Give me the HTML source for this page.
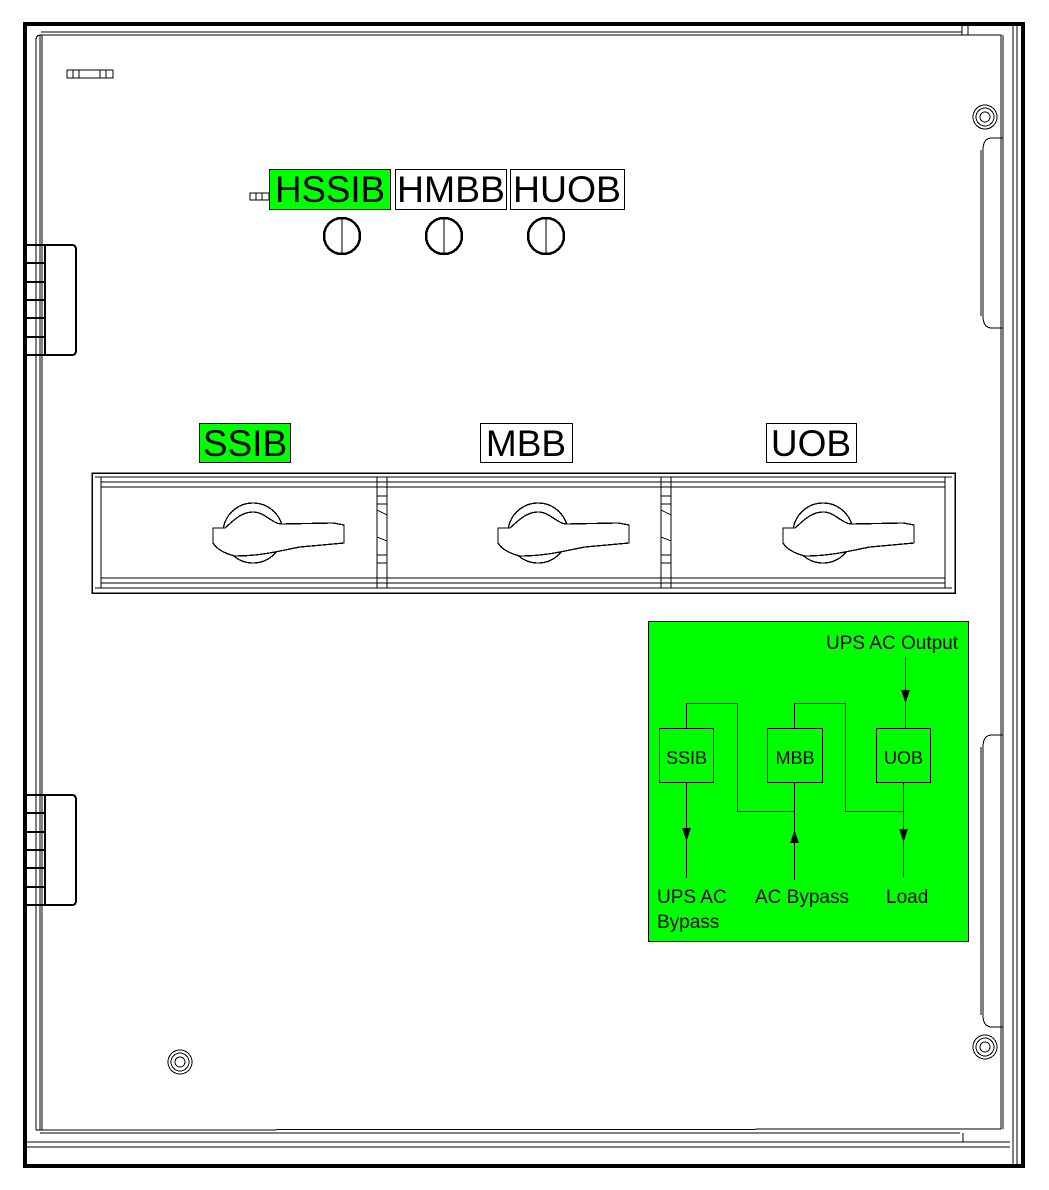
<!DOCTYPE html>
<html><head><meta charset="utf-8"><style>
html,body{margin:0;padding:0;background:#fff;}
svg{display:block;}
text{font-family:"Liberation Sans",Arial,sans-serif;}
</style></head><body>
<svg width="1049" height="1190" viewBox="0 0 1049 1190" xmlns="http://www.w3.org/2000/svg" shape-rendering="crispEdges">
<rect width="1049" height="1190" fill="#fff"/>
<g fill="none" stroke="#000">
<rect x="25" y="24" width="998" height="1142" stroke-width="4"/>
<line x1="1013" y1="26" x2="1013" y2="1164" stroke-width="1"/>
<line x1="1017" y1="26" x2="1017" y2="1164" stroke-width="1"/>
<path d="M36 1130 L36 40 Q36 35 41 35 L1001 35 L1001 1129 Z" stroke-width="1"/>
<line x1="41" y1="32" x2="962" y2="32"/>
<line x1="962" y1="26" x2="962" y2="35"/>
<line x1="968" y1="26" x2="968" y2="35"/>
<line x1="40" y1="35" x2="40" y2="1130"/>
<line x1="42" y1="35" x2="42" y2="1130"/>
<line x1="1003" y1="35" x2="1003" y2="1129"/>
<line x1="40" y1="1133" x2="960" y2="1133"/>
<line x1="963" y1="1133" x2="963" y2="1142"/>
<line x1="27" y1="1142" x2="1010" y2="1142"/>
<line x1="27" y1="1147" x2="1010" y2="1147"/>
<rect x="67" y="70" width="46" height="8"/>
<line x1="73" y1="70" x2="73" y2="78"/><line x1="79" y1="70" x2="79" y2="78"/>
<line x1="100" y1="70" x2="100" y2="78"/><line x1="106" y1="70" x2="106" y2="78"/>
<rect x="250" y="193" width="19" height="7"/>
<line x1="256" y1="193" x2="256" y2="200"/><line x1="262" y1="193" x2="262" y2="200"/>
<g stroke-width="2">
<path d="M26 245 L72 245 Q76 245 76 250 L76 350 Q76 355 72 355 L26 355"/>
<line x1="45" y1="245" x2="45" y2="355"/>
<line x1="26" y1="263" x2="46" y2="263"/><line x1="26" y1="282" x2="46" y2="282"/>
<line x1="26" y1="300" x2="46" y2="300"/><line x1="26" y1="318" x2="46" y2="318"/><line x1="26" y1="337" x2="46" y2="337"/>
<path d="M26 795 L72 795 Q76 795 76 800 L76 900 Q76 905 72 905 L26 905"/>
<line x1="45" y1="795" x2="45" y2="905"/>
<line x1="26" y1="813" x2="46" y2="813"/><line x1="26" y1="832" x2="46" y2="832"/>
<line x1="26" y1="850" x2="46" y2="850"/><line x1="26" y1="868" x2="46" y2="868"/><line x1="26" y1="887" x2="46" y2="887"/>
</g>
<path d="M1003 138 L992 138 Q983 138 983 150 L983 316 Q983 328 992 328 L1003 328"/>
<line x1="981" y1="150" x2="981" y2="316"/>
<path d="M1003 735 L992 735 Q983 735 983 747 L983 1015 Q983 1027 992 1027 L1003 1027"/>
<line x1="981" y1="747" x2="981" y2="1015"/>
<g stroke-width="1">
<circle cx="985" cy="117" r="12"/><circle cx="985" cy="117" r="9"/><circle cx="985" cy="117" r="5"/>
<circle cx="985" cy="1047" r="12"/><circle cx="985" cy="1047" r="9"/><circle cx="985" cy="1047" r="5"/>
<circle cx="180" cy="1062" r="12"/><circle cx="180" cy="1062" r="9"/><circle cx="180" cy="1062" r="5"/>
</g>
<g stroke-width="2.5">
<circle cx="342" cy="236" r="18"/><line x1="342" y1="218" x2="342" y2="254" stroke-width="1"/>
<circle cx="444" cy="236" r="18"/><line x1="444" y1="218" x2="444" y2="254" stroke-width="1"/>
<circle cx="546" cy="236" r="18"/><line x1="546" y1="218" x2="546" y2="254" stroke-width="1"/>
</g>
<rect x="92" y="473" width="863" height="120" stroke-width="1.5"/>
<line x1="101" y1="482" x2="945" y2="482"/>
<line x1="101" y1="487" x2="945" y2="487"/>
<line x1="101" y1="578" x2="945" y2="578"/>
<line x1="101" y1="583" x2="945" y2="583"/>
<line x1="101" y1="477" x2="101" y2="588"/>
<line x1="945" y1="477" x2="945" y2="588"/>
<line x1="95" y1="588" x2="952" y2="588"/>
<line x1="95" y1="477" x2="952" y2="477"/>
<rect x="377" y="477" width="10" height="111"/>
<line x1="377" y1="496" x2="387" y2="496"/><line x1="377" y1="504" x2="387" y2="504"/>
<line x1="377" y1="555" x2="387" y2="555"/><line x1="377" y1="563" x2="387" y2="563"/>
<path d="M377 510 L387 515 M377 537 L387 541"/>
<rect x="661" y="477" width="10" height="111"/>
<line x1="661" y1="496" x2="671" y2="496"/><line x1="661" y1="504" x2="671" y2="504"/>
<line x1="661" y1="555" x2="671" y2="555"/><line x1="661" y1="563" x2="671" y2="563"/>
<path d="M661 510 L671 515 M661 537 L671 541"/>
</g>
<defs>
<g id="h" stroke="#000" stroke-width="1.3" fill="#fff">
<circle cx="0" cy="0" r="30"/>
<path d="M-40 -5 L-28 -5 C-20 -12 -12 -21 0 -21 C12 -21 18 -10 28 -9 L80 -10 L91 -8 L91 10 L47 14 C30 17 10 23 -18 23 C-30 20 -37 15 -40 10 Z"/>
</g>
</defs>
<use href="#h" x="253" y="533"/>
<use href="#h" x="538" y="533"/>
<use href="#h" x="823" y="533"/>
<rect x="269.5" y="169.5" width="121" height="40" fill="#00ff00" stroke="#000"/>
<rect x="395.5" y="169.5" width="111" height="40" fill="#fff" stroke="#000"/>
<rect x="510.5" y="169.5" width="114" height="40" fill="#fff" stroke="#000"/>
<g font-size="37">
<text x="330" y="202" text-anchor="middle" textLength="110" lengthAdjust="spacingAndGlyphs">HSSIB</text>
<text x="451" y="202" text-anchor="middle" textLength="108" lengthAdjust="spacingAndGlyphs">HMBB</text>
<text x="567" y="202" text-anchor="middle" textLength="108" lengthAdjust="spacingAndGlyphs">HUOB</text>
</g>
<rect x="199.5" y="423.5" width="91" height="39" fill="#00ff00" stroke="#000"/>
<rect x="480.5" y="423.5" width="92" height="39" fill="#fff" stroke="#000"/>
<rect x="766.5" y="423.5" width="90" height="39" fill="#fff" stroke="#000"/>
<g font-size="37">
<text x="245" y="456" text-anchor="middle">SSIB</text>
<text x="526" y="456" text-anchor="middle">MBB</text>
<text x="811" y="456" text-anchor="middle">UOB</text>
</g>
<rect x="648.5" y="621.5" width="320" height="320" fill="#00ff00" stroke="#000"/>
<g fill="none" stroke="#000" stroke-width="1">
<rect x="659.5" y="728.5" width="54" height="54"/>
<rect x="767.5" y="728.5" width="55" height="54"/>
<rect x="876.5" y="728.5" width="54" height="54"/>
<path d="M686.5 728 V703.5 H737.5 V811.5 H794.5"/>
<path d="M794.5 728 V703.5 H845.5 V811.5 H903.5"/>
<line x1="686.5" y1="782" x2="686.5" y2="878"/>
<line x1="794.5" y1="782" x2="794.5" y2="880"/>
<line x1="903.5" y1="782" x2="903.5" y2="877"/>
<line x1="905.5" y1="657" x2="905.5" y2="728"/>
</g>
<g fill="#000">
<path d="M682 828 L691 828 L686.5 841 Z"/>
<path d="M790 843 L799 843 L794.5 830 Z"/>
<path d="M899 829 L908 829 L903.5 842 Z"/>
<path d="M901 690 L910 690 L905.5 703 Z"/>
</g>
<g font-size="19">
<text x="826" y="649">UPS AC Output</text>
<text x="686.5" y="764" text-anchor="middle" font-size="18">SSIB</text>
<text x="795" y="764" text-anchor="middle" font-size="18">MBB</text>
<text x="903.5" y="764" text-anchor="middle" font-size="18">UOB</text>
<text x="657" y="903">UPS AC</text>
<text x="657" y="928">Bypass</text>
<text x="755" y="903">AC Bypass</text>
<text x="886" y="903">Load</text>
</g>
</svg>
</body></html>
